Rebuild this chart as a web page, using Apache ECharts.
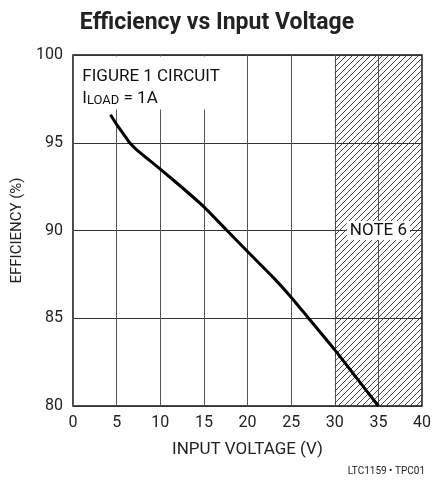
<!DOCTYPE html>
<html><head><meta charset="utf-8">
<script src="https://cdn.jsdelivr.net/npm/echarts@6/dist/echarts.min.js"></script>
<style>html,body{margin:0;padding:0;background:#fff}#c{width:434px;height:489px}</style>
</head><body><div id="c"></div>
<script>
var titleText = 'Efficiency vs Input Voltage';
var xName = 'INPUT VOLTAGE (V)';
var yName = 'EFFICIENCY (%)';
var inputVoltage = [4.3, 5, 6, 6.5, 7.4, 10, 12.5, 15, 17.65, 20, 23, 25, 27, 30, 32.5, 35];
var efficiency = [96.6, 96.05, 95.35, 95.0, 94.55, 93.5, 92.45, 91.35, 90.0, 88.8, 87.3, 86.2, 85.0, 83.2, 81.6, 80.0];
var noteRange = [30, 40];
var noteLabel = 'NOTE 6';
var noteAt = [35, 90];
var boxLines = ['FIGURE 1 CIRCUIT', 'I', 'LOAD', ' = 1A'];
var boxRange = [[0.15, 99.92], [18, 96.9]];
var footer = 'LTC1159 \u2022 TPC01';

var F = '"Roboto", "Liberation Sans", sans-serif';
var cv = document.createElement('canvas');
cv.width = 6; cv.height = 6;
var g = cv.getContext('2d');
g.strokeStyle = '#333'; g.lineWidth = 0.9;
g.beginPath();
g.moveTo(-1, 7); g.lineTo(7, -1);
g.moveTo(-4, 4); g.lineTo(4, -4);
g.moveTo(2, 10); g.lineTo(10, 2);
g.stroke();

var data = inputVoltage.map(function (v, i) { return [v, efficiency[i]]; });
var chart = echarts.init(document.getElementById('c'));
chart.setOption({
  animation: false,
  backgroundColor: '#fff',
  title: {
    text: titleText, left: 'center', top: 7,
    textStyle: { fontFamily: F, fontWeight: 'bold', fontSize: 23, color: '#222' }
  },
  graphic: [{
    type: 'text', right: 9, top: 466,
    style: { text: footer, fontFamily: F, fontSize: 10, fill: '#222' }
  }],
  grid: { left: 73, top: 55, right: 9, bottom: 83, show: true, borderColor: '#111', borderWidth: 1.5, backgroundColor: 'transparent' },
  xAxis: {
    type: 'value', min: 0, max: 40, interval: 5,
    name: xName, nameLocation: 'middle', nameGap: 35,
    nameTextStyle: { fontFamily: F, fontSize: 17, color: '#222' },
    axisLine: { show: false }, axisTick: { show: false },
    axisLabel: { fontFamily: F, fontSize: 16, color: '#222', margin: 9 },
    splitLine: { show: true, lineStyle: { color: '#555', width: 1 } }
  },
  yAxis: {
    type: 'value', min: 80, max: 100, interval: 5,
    name: yName, nameLocation: 'middle', nameGap: 47,
    nameTextStyle: { fontFamily: F, fontSize: 15, color: '#222' },
    axisLine: { show: false }, axisTick: { show: false },
    axisLabel: { fontFamily: F, fontSize: 16, color: '#222', margin: 10 },
    splitLine: { show: true, lineStyle: { color: '#333', width: 1 } }
  },
  series: [{
    type: 'line', data: data, smooth: 0.2, symbol: 'none',
    lineStyle: { color: '#000', width: 3 },
    z: 3,
    markArea: {
      silent: true,
      data: [
        [{ xAxis: noteRange[0], yAxis: 100, itemStyle: { color: { image: cv, repeat: 'repeat' } } }, { xAxis: noteRange[1], yAxis: 80 }],
        [{ xAxis: boxRange[0][0], yAxis: boxRange[0][1], itemStyle: { color: '#fff' },
           label: { show: true, position: 'insideTopLeft', distance: 0, padding: [7, 0, 0, 8],
             formatter: '{a|' + boxLines[0] + '}\n{a|' + boxLines[1] + '}{s|' + boxLines[2] + '}{a|' + boxLines[3] + '}',
             rich: { a: { fontFamily: F, fontSize: 17, color: '#111', lineHeight: 22, verticalAlign: 'bottom' },
                     s: { fontFamily: F, fontSize: 13, color: '#111', lineHeight: 10, verticalAlign: 'bottom' } } } },
         { xAxis: boxRange[1][0], yAxis: boxRange[1][1] }]
      ]
    },
    markPoint: {
      silent: true, symbol: 'rect', symbolSize: 0,
      data: [{ coord: noteAt, value: noteLabel }],
      label: { show: true, position: 'inside', formatter: noteLabel, fontFamily: F, fontSize: 17, color: '#111', backgroundColor: '#fff', padding: [1, 3] }
    }
  }]
});
</script></body></html>
